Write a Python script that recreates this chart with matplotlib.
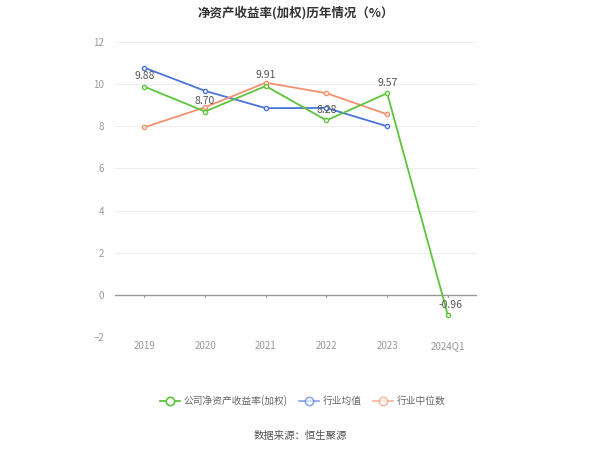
import numpy as np
import matplotlib
matplotlib.use('Agg')
import matplotlib.pyplot as plt
from matplotlib.lines import Line2D

plt.rcParams['font.family'] = ['Noto Sans CJK SC', 'DejaVu Sans']

categories = ['2019', '2020', '2021', '2022', '2023', '2024Q1']
company = [9.88, 8.70, 9.91, 8.28, 9.57, -0.96]
industry_mean = [10.78, 9.68, 8.86, 8.87, 8.00]
industry_median = [7.95, 8.90, 10.07, 9.57, 8.57]
labels = ['9.88', '8.70', '9.91', '8.28', '9.57', '-0.96']

green = '#5dc43c'
blue = '#4a74d9'
orange = '#f2916c'

fig = plt.figure(figsize=(6, 4.49), dpi=100)
ax = fig.add_axes([0.192, 0.2494, 0.603, 0.6571])

x = np.arange(len(categories))
ax.plot(x[:len(industry_mean)], industry_mean, '-o', color=blue, lw=1.3,
        ms=3, mfc='white', mew=1, zorder=3)
ax.plot(x[:len(industry_median)], industry_median, '-o', color=orange, lw=1.3,
        ms=3, mfc='white', mew=1, zorder=3)
ax.plot(x, company, '-o', color=green, lw=1.3,
        ms=3, mfc='white', mew=1, zorder=4)

for i, (v, s) in enumerate(zip(company, labels)):
    dx = 0.05 if v < 0 else 0
    ax.annotate(s, (x[i] + dx, v), xytext=(0, 4), textcoords='offset points',
                ha='center', va='bottom', fontsize=7.5, color='#555555', zorder=5)

ax.set_xlim(-0.48, 5.48)
ax.set_ylim(-2, 12)
ax.set_yticks(np.arange(-2, 13, 2))
ax.set_xticks(x)
ax.set_xticklabels(categories)
ax.grid(axis='y', color='#eeeeee', lw=0.8)
ax.set_axisbelow(True)
ax.axhline(0, color='#999999', lw=1, zorder=2)
for xi in x:
    ax.plot([xi, xi], [0, -0.12], color='#999999', lw=0.8, zorder=2, clip_on=False)
for sp in ax.spines.values():
    sp.set_visible(False)
ax.tick_params(axis='both', length=0, labelsize=7, colors='#999999')
ax.tick_params(axis='x', pad=3)
ax.tick_params(axis='y', pad=8)

fig.text(0.493, 0.972, '净资产收益率(加权)历年情况（%）', ha='center', va='center',
         fontsize=9, fontweight='bold', color='#333333')

handles = [
    Line2D([], [], color=green, marker='o', ms=6, mfc='white', mew=1.2, lw=1.3),
    Line2D([], [], color=blue, marker='o', ms=6, mfc='white', mew=1.2, lw=1.3, alpha=0.6),
    Line2D([], [], color=orange, marker='o', ms=6, mfc='white', mew=1.2, lw=1.3, alpha=0.6),
]
leg = fig.legend(handles, ['公司净资产收益率(加权)', '行业均值', '行业中位数'],
                 loc='center', bbox_to_anchor=(0.505, 0.107), ncol=3, frameon=False,
                 fontsize=7, handlelength=2, columnspacing=1.2, handletextpad=0.4)
for t in leg.get_texts():
    t.set_color('#666666')

fig.text(0.5, 0.03, '数据来源：恒生聚源', ha='center', va='center',
         fontsize=7.5, color='#555555')

fig.savefig('out.png', dpi=100)
